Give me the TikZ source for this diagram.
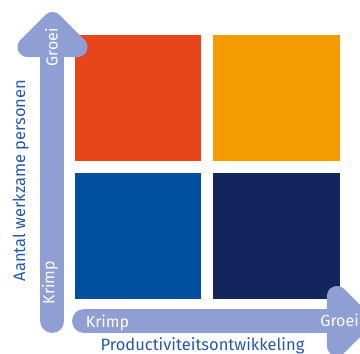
\documentclass[tikz,border=0pt]{standalone}
\usepackage{fontspec}
\setmainfont{Fira Sans}
\definecolor{arrowc}{HTML}{8F9ED3}
\definecolor{txtblue}{HTML}{2459A8}
\definecolor{sqred}{HTML}{E8461A}
\definecolor{sqorange}{HTML}{F39B00}
\definecolor{sqblue}{HTML}{0050A0}
\definecolor{sqnavy}{HTML}{14245C}
\tikzset{
  shaft/.style={draw=arrowc, line width=24pt, line cap=round},
  headtri/.style={fill=arrowc, draw=arrowc, line width=20pt, line join=round},
  arrowtext/.style={text=white, font=\fontsize{16}{18}\selectfont, inner sep=0pt},
  axistext/.style={text=txtblue, font=\fontsize{16.5}{18}\selectfont, inner sep=0pt},
}
\begin{document}
\begin{tikzpicture}[x=1pt,y=-1pt]
\useasboundingbox (0,0) rectangle (360,354);
\clip (0,0) rectangle (360,354);
% quadrants
\fill[sqred] (75,35) rectangle (201,161);
\fill[sqorange] (213,35) rectangle (340,161);
\fill[sqblue] (75,173) rectangle (201,299);
\fill[sqnavy] (213,173) rectangle (340,299);
% vertical arrow
\coordinate (vbot) at (52.5,321);
\coordinate (vtop) at (52.5,50);
\draw[shaft] (vbot) -- (vtop);
\filldraw[headtri] (52.5,22) -- (27.5,47) -- (77.5,47) -- cycle;
% horizontal arrow
\coordinate (hleft) at (84,321);
\coordinate (hright) at (345,321);
\draw[shaft] (hleft) -- (hright);
\filldraw[headtri] (362,321) -- (337,296) -- (337,346) -- cycle;
% labels
\node[arrowtext, rotate=90, anchor=south] (vg) at (58,47.5) {Groei};
\node[arrowtext, rotate=90, anchor=south] (vk) at (58,282.5) {Krimp};
\node[arrowtext, anchor=base] (hk) at (107.5,327) {Krimp};
\node[arrowtext, anchor=base east] (hg) at (359,326) {Groei};
\node[axistext, rotate=90, anchor=base] (ya) at (25,180.5) {Aantal werkzame personen};
\node[axistext, anchor=base] (xa) at (202.5,350) {Productiviteitsontwikkeling};
\end{tikzpicture}
\end{document}
